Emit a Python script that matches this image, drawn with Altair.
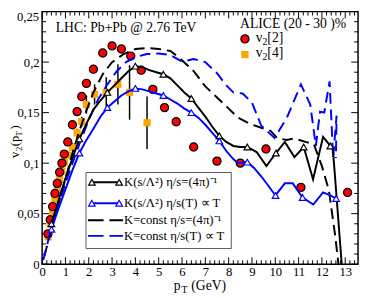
import altair as alt
import pandas as pd

# ---------------- data ----------------
# ALICE v2[2] (red circles)
v22_pt = [0.25, 0.35, 0.45, 0.55, 0.65, 0.75, 0.85, 0.95, 1.1, 1.3, 1.5, 1.7, 1.9,
          2.2, 2.6, 3.0, 3.4, 3.8, 4.25, 4.75, 5.25, 5.75, 6.5, 7.5, 8.5, 9.6, 11.1, 13.1]
v22_val = [0.030, 0.044, 0.057, 0.070, 0.080, 0.091, 0.100, 0.109, 0.121, 0.138, 0.151,
           0.166, 0.179, 0.193, 0.209, 0.216, 0.213, 0.206, 0.192, 0.173, 0.155, 0.141,
           0.116, 0.102, 0.100, 0.114, 0.076, 0.071]

# ALICE v2[4] (orange squares) with errors
v24_pt = [0.25, 0.35, 0.45, 0.55, 0.65, 0.75, 0.85, 0.95, 1.1, 1.3, 1.5, 1.7, 1.9,
          2.25, 2.75, 3.25, 3.75, 4.5]
v24_val = [0.027, 0.040, 0.052, 0.064, 0.074, 0.084, 0.092, 0.101, 0.108, 0.116, 0.130,
           0.141, 0.158, 0.168, 0.170, 0.178, 0.170, 0.140]
v24_err = [0.002, 0.002, 0.002, 0.002, 0.002, 0.002, 0.002, 0.003, 0.003, 0.004, 0.004,
           0.005, 0.009, 0.010, 0.015, 0.020, 0.027, 0.026]

# K(s/L^2) eta/s=(4pi)^-1  (black solid)
bs_pt = [0.4, 0.7, 1.0, 1.3, 1.6, 1.9, 2.2, 2.5, 2.8, 3.1, 3.4, 3.7, 4.0, 4.3, 4.6, 4.9,
         5.2, 5.5, 5.8, 6.1, 6.4, 6.7, 7.0, 7.3, 7.6, 7.9, 8.2, 8.5, 8.8, 9.2, 9.62,
         10.03, 10.41, 10.82, 11.22, 11.62, 12.05, 12.36, 12.47, 12.85]
bs_val = [0.040, 0.063, 0.085, 0.105, 0.124, 0.139, 0.153, 0.162, 0.170, 0.177, 0.184,
          0.191, 0.196, 0.195, 0.192, 0.190, 0.188, 0.184, 0.177, 0.170, 0.164, 0.155,
          0.146, 0.136, 0.127, 0.121, 0.117, 0.116, 0.116, 0.111, 0.097, 0.110, 0.121,
          0.106, 0.116, 0.084, 0.126, 0.117, 0.114, 0.0]
bs_tri_pt = [0.4, 1.6, 2.8, 4.0, 5.2, 6.4, 7.6, 8.8, 10.03, 11.22, 12.36]
bs_tri_val = [0.040, 0.124, 0.170, 0.196, 0.188, 0.164, 0.127, 0.116, 0.110, 0.116, 0.117]

# K(s/L^2) eta/s(T) ~ T  (blue solid)
bl_pt = [0.4, 0.7, 1.0, 1.3, 1.6, 1.9, 2.2, 2.5, 2.8, 3.1, 3.4, 3.7, 4.0, 4.3, 4.6, 4.9,
         5.2, 5.5, 5.8, 6.1, 6.4, 6.7, 7.0, 7.3, 7.6, 7.9, 8.2, 8.4, 8.8, 9.1, 9.43,
         10.01, 10.41, 10.75, 11.17, 11.63, 12.05, 12.36, 12.61]
bl_val = [0.0345, 0.055, 0.074, 0.093, 0.110, 0.123, 0.134, 0.146, 0.155, 0.161, 0.167,
          0.171, 0.174, 0.173, 0.171, 0.169, 0.167, 0.163, 0.159, 0.154, 0.150, 0.145,
          0.138, 0.130, 0.122, 0.112, 0.104, 0.100, 0.101, 0.095, 0.086, 0.068, 0.080,
          0.080, 0.066, 0.059, 0.071, 0.068, 0.065]
bl_tri_pt = [0.4, 1.6, 2.8, 4.0, 5.2, 6.4, 7.6, 8.8, 10.01, 11.17, 12.61]
bl_tri_val = [0.0345, 0.110, 0.155, 0.174, 0.167, 0.150, 0.122, 0.101, 0.068, 0.066, 0.065]

# K=const eta/s=(4pi)^-1 (black dashed)
bd_pt = [0.1, 0.4, 0.7, 1.0, 1.3, 1.6, 1.9, 2.2, 2.6, 3.0, 3.5, 4.0, 4.5, 5.0, 5.5, 5.9,
         6.5, 7.0, 7.5, 8.0, 8.4, 8.9, 9.4, 9.8, 10.1, 10.5, 10.8, 11.3, 11.65, 12.0,
         12.3, 12.57, 12.71]
bd_val = [0.008, 0.036, 0.060, 0.084, 0.110, 0.132, 0.152, 0.170, 0.188, 0.200, 0.208,
          0.213, 0.214, 0.213, 0.211, 0.204, 0.191, 0.176, 0.165, 0.154, 0.145, 0.139,
          0.135, 0.132, 0.1245, 0.123, 0.1245, 0.121, 0.119, 0.097, 0.073, 0.028, 0.0]

# K=const eta/s(T) ~ T (blue dashed)
bdd_pt = [0.05, 0.3, 0.7, 1.0, 1.3, 1.6, 2.0, 2.4, 2.8, 3.2, 3.6, 4.0, 4.5, 5.0, 5.5, 6.0,
          6.5, 7.0, 7.5, 7.9, 8.2, 8.6, 9.0, 9.4, 9.97, 10.5, 11.1, 11.5, 11.74, 11.92,
          12.1, 12.33, 12.48, 12.63, 12.6]
bdd_val = [0.004, 0.027, 0.058, 0.080, 0.100, 0.119, 0.143, 0.163, 0.178, 0.191, 0.200,
           0.205, 0.208, 0.2085, 0.207, 0.2005, 0.203, 0.200, 0.189, 0.177, 0.170, 0.169,
           0.160, 0.137, 0.125, 0.145, 0.178, 0.158, 0.117, 0.151, 0.150, 0.181, 0.105,
           0.147, 0.105]

x_major = list(range(14))
x_minor = [round(i * 0.2, 2) for i in range(68) if i % 5]
y_major = [0, 0.05, 0.1, 0.15, 0.2, 0.25]
y_label_vals = [0, 0.05, 0.1, 0.15, 0.2]
y_minor = [round(i * 0.01, 2) for i in range(26) if i % 5]

# ---------------- chart ----------------
W, H = 324, 259
FONT = "Liberation Serif"
xs = alt.Scale(domain=[0, 13.55], nice=False, zero=False)
ys = alt.Scale(domain=[0, 0.25], nice=False, zero=False)
XAX = alt.Axis(values=x_major, ticks=False, domain=False, grid=False, title=None,
               labelFont=FONT, labelFontSize=13, labelColor="black", labelPadding=2,
               labelFlush=False)
YAX = alt.Axis(values=y_label_vals, ticks=False, domain=False, grid=False, title=None,
               labelFont=FONT, labelFontSize=13, labelColor="black", labelPadding=3,
               labelFlush=False,
               labelExpr="replace(format(datum.value, '.2~f'), '.', ',')")


def X(f):
    return alt.X(f, scale=xs, axis=XAX, title=None)


def Y(f):
    return alt.Y(f, scale=ys, axis=YAX, title=None)


layers = []


def xticks(vals, length):
    df = pd.DataFrame({"v": vals})
    b = alt.Chart(df).mark_rule(color="black", strokeWidth=1)
    return [
        b.encode(x=X("v:Q"), y=alt.value(H), y2=alt.value(H - length)),
        b.encode(x=X("v:Q"), y=alt.value(0), y2=alt.value(length)),
    ]


def yticks(vals, length):
    df = pd.DataFrame({"v": vals})
    b = alt.Chart(df).mark_rule(color="black", strokeWidth=1)
    return [
        b.encode(y=Y("v:Q"), x=alt.value(0), x2=alt.value(length)),
        b.encode(y=Y("v:Q"), x=alt.value(W), x2=alt.value(W - length)),
    ]


layers += xticks(x_major, 7) + xticks(x_minor, 4) + yticks(y_major, 7) + yticks(y_minor, 4)


def line(pt, val, color, dash=None):
    df = pd.DataFrame({"pt": pt, "v": val, "i": list(range(len(pt)))})
    kw = dict(color=color, strokeWidth=2, clip=True)
    if dash:
        kw["strokeDash"] = dash
    return alt.Chart(df).mark_line(**kw).encode(
        x=X("pt:Q"), y=Y("v:Q"), order=alt.Order("i:Q"))


def tri(pt, val, color):
    df = pd.DataFrame({"pt": pt, "v": val})
    return alt.Chart(df).mark_point(shape="triangle-up", filled=True, fill="white",
                                    stroke=color, strokeWidth=1.2, size=45, opacity=1).encode(
        x=X("pt:Q"), y=Y("v:Q"))


# error bars and squares for v2[4]
v24 = pd.DataFrame({"pt": v24_pt, "v": v24_val,
                    "lo": [a - b for a, b in zip(v24_val, v24_err)],
                    "hi": [a + b for a, b in zip(v24_val, v24_err)]})
layers.append(alt.Chart(v24).mark_rule(color="black", strokeWidth=1.5).encode(
    x=X("pt:Q"), y=Y("lo:Q"), y2="hi:Q"))
layers.append(alt.Chart(v24).mark_point(shape="square", filled=True, color="#ffa500",
                                        size=55, opacity=1).encode(x=X("pt:Q"), y=Y("v:Q")))

v22 = pd.DataFrame({"pt": v22_pt, "v": v22_val})
layers.append(alt.Chart(v22).mark_point(shape="circle", filled=True, fill="#ff0000",
                                        stroke="black", strokeWidth=1.2, size=70, opacity=1).encode(
    x=X("pt:Q"), y=Y("v:Q")))

layers.append(line(bd_pt, bd_val, "black", [11, 6]))
layers.append(line(bdd_pt, bdd_val, "#0000ff", [11, 6]))
layers.append(line(bs_pt, bs_val, "black"))
layers.append(line(bl_pt, bl_val, "#0000ff"))
layers.append(tri(bs_tri_pt, bs_tri_val, "black"))
layers.append(tri(bl_tri_pt, bl_tri_val, "#0000ff"))

# ---------------- annotations / legend ----------------
one = pd.DataFrame({"a": [0]})


def txt(s, x, y, size=13, angle=0, align="left", color="black", baseline="middle"):
    return alt.Chart(one).mark_text(text=s, font=FONT, fontSize=size, angle=angle,
                                    align=align, baseline=baseline, color=color).encode(
        x=alt.value(x), y=alt.value(y))


# top y label kept inside the page
layers.append(txt("0,25", -3, 0, 13, align="right", baseline="top"))

layers.append(txt("LHC: Pb+Pb @ 2.76 TeV", 14, 17, 14))
layers.append(txt("ALICE (20 - 30 )%", 203, 13, 14))
layers.append(alt.Chart(one).mark_point(shape="circle", filled=True, fill="#ff0000",
                                        stroke="black", strokeWidth=1.2, size=70, opacity=1).encode(
    x=alt.value(208), y=alt.value(28)))
layers.append(alt.Chart(one).mark_point(shape="square", filled=True, color="#ffa500",
                                        size=55, opacity=1).encode(
    x=alt.value(208), y=alt.value(44)))
layers.append(txt("v", 219, 27, 14))
layers.append(txt("2", 226, 31, 10))
layers.append(txt("[2]", 231, 27, 14))
layers.append(txt("v", 219, 43, 14))
layers.append(txt("2", 226, 47, 10))
layers.append(txt("[4]", 231, 43, 14))

# legend box
layers.append(alt.Chart(one).mark_rect(fill="white", stroke="#555555", strokeWidth=1).encode(
    x=alt.value(45), x2=alt.value(194), y=alt.value(165), y2=alt.value(243)))
rows = [175, 196.5, 214, 230]
labels = ["K(s/Λ²) η/s=(4π)⁻¹", "K(s/Λ²) η/s(T)  ∝ T",
          "K=const η/s=(4π)⁻¹", "K=const η/s(T)  ∝ T"]
cols = ["black", "#0000ff", "black", "#0000ff"]
for k in range(4):
    r = alt.Chart(one)
    if k < 2:
        layers.append(r.mark_rule(color=cols[k], strokeWidth=2).encode(
            x=alt.value(49), x2=alt.value(81), y=alt.value(rows[k])))
        for tx in (51, 79):
            layers.append(r.mark_point(shape="triangle-up", filled=True, fill="white",
                                       stroke=cols[k], strokeWidth=1.2, size=45, opacity=1).encode(
                x=alt.value(tx), y=alt.value(rows[k])))
    else:
        layers.append(r.mark_rule(color=cols[k], strokeWidth=2, strokeDash=[16, 6]).encode(
            x=alt.value(47), x2=alt.value(83), y=alt.value(rows[k])))
    layers.append(txt(labels[k], 84, rows[k], 13))

# axis titles
layers.append(txt("p", 135, 282, 14))
layers.append(txt("T", 143, 285.5, 10))
layers.append(txt("(GeV)", 153, 282, 14))

layers.append(txt("v", -28, 150, 13, angle=270))
layers.append(txt("2", -24, 143, 9, angle=270))
layers.append(txt("(p", -28, 138, 13, angle=270))
layers.append(txt("T", -24, 128, 9, angle=270))
layers.append(txt(")", -28, 121, 13, angle=270))

chart = alt.layer(*layers).properties(
    width=W, height=H,
    autosize=alt.AutoSizeParams(type="none"),
    padding={"left": 35, "top": 0, "right": 2, "bottom": 31},
).configure_view(stroke="black", strokeWidth=1.5)

chart.save("out.html", embed_options={"renderer": "svg", "actions": False})
